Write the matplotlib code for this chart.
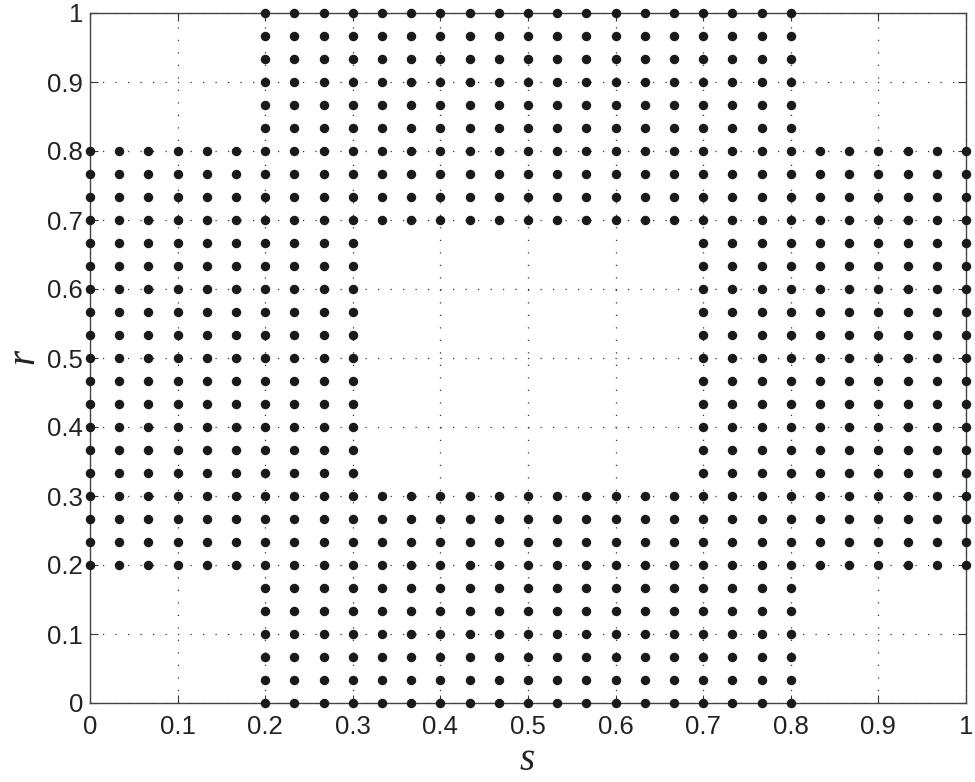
import numpy as np
import matplotlib
matplotlib.use('Agg')
import matplotlib.pyplot as plt

# grid of sample points (step 1/30) and the rectangles that are filled
grid_n = 30
# (s_min, s_max, r_min, r_max)
regions = [
    (0.0, 0.3, 0.2, 0.8),   # left arm
    (0.7, 1.0, 0.2, 0.8),   # right arm
    (0.2, 0.8, 0.0, 0.3),   # bottom arm
    (0.2, 0.8, 0.7, 1.0),   # top arm
]
ticks = [0, 0.1, 0.2, 0.3, 0.4, 0.5, 0.6, 0.7, 0.8, 0.9, 1]
tick_labels = ['0', '0.1', '0.2', '0.3', '0.4', '0.5', '0.6', '0.7', '0.8', '0.9', '1']

k = np.arange(grid_n + 1)
S, R = np.meshgrid(k, k)
S, R = S.ravel(), R.ravel()
mask = np.zeros(S.shape, dtype=bool)
for s0, s1, r0, r1 in regions:
    mask |= ((S >= round(s0 * grid_n)) & (S <= round(s1 * grid_n)) &
             (R >= round(r0 * grid_n)) & (R <= round(r1 * grid_n)))
s_pts = S[mask] / grid_n
r_pts = R[mask] / grid_n

plt.rcParams['font.family'] = ['Liberation Sans', 'DejaVu Sans']

W, H = 975, 782
fig = plt.figure(figsize=(W / 100, H / 100), dpi=100)
ax = fig.add_axes([90 / W, 1 - 703 / H, 876 / W, 690 / H])

ax.plot(s_pts, r_pts, linestyle='none', marker='o', markersize=5.8,
        color='#1a1a1a', zorder=3, clip_on=False)

ax.set_xlim(0, 1)
ax.set_ylim(0, 1)
ax.set_xticks(ticks)
ax.set_yticks(ticks)
ax.set_xticklabels(tick_labels)
ax.set_yticklabels(tick_labels)
ax.tick_params(direction='in', length=6, width=0.8, color='#333333',
               labelsize=18.5, labelcolor='#222222', top=True, right=True)
ax.tick_params(axis='x', pad=9)
ax.tick_params(axis='y', pad=5)
ax.grid(True, linestyle=(0, (1, 9)), linewidth=0.9, color='#333333')
for sp in ax.spines.values():
    sp.set_color('#444444')
    sp.set_linewidth(1.0)

# axis labels placed by hand so the rotated r stays inside the figure
fig.text(527 / W, 1 - 760 / H, 's', fontsize=28, fontstyle='italic',
         family='Liberation Serif', ha='center', va='center', color='#222222')
fig.text(24 / W, 1 - 356 / H, 'r', fontsize=28, fontstyle='italic',
         family='Liberation Serif', ha='center', va='center', rotation=90,
         color='#222222')

fig.savefig('out.png', dpi=100, facecolor='white')
